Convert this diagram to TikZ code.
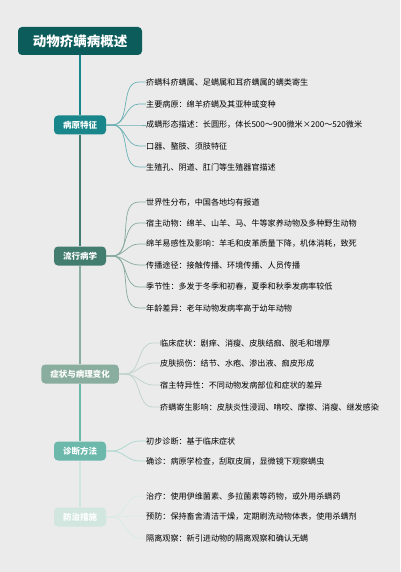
\documentclass[tikz,border=0pt]{standalone}
\usepackage{fontspec}
\setmainfont{Noto Sans CJK SC}
\usepackage{xcolor}
\usepackage{tikz}
\usetikzlibrary{positioning}
\definecolor{fondGris}{RGB}{235, 235, 235}
\definecolor{tealTitre}{RGB}{13, 92, 92}
\definecolor{tealPath}{RGB}{24, 134, 138}
\definecolor{vertEpid}{RGB}{67, 125, 111}
\definecolor{grisSympt}{RGB}{137, 173, 158}
\definecolor{tealDiag}{RGB}{108, 185, 172}
\definecolor{vertPrev}{RGB}{208, 230, 222}

\begin{document}
\begin{tikzpicture}[x=1pt, y=-1pt,
  titre/.style={rectangle, rounded corners=4pt, fill=tealTitre, text=white,
    minimum width=124pt, minimum height=28pt, inner sep=0pt,
    font=\fontsize{13.5}{15}\selectfont\bfseries},
  sect/.style={rectangle, rounded corners=4pt, text=white,
    minimum width=52pt, minimum height=19pt, inner xsep=9pt, inner ysep=0pt,
    font=\fontsize{8.5}{10}\selectfont\bfseries},
  feuille/.style={anchor=west, inner sep=0pt, font=\fontsize{8.1}{9}\selectfont},
  axe/.style={line width=2.5pt},
  lien/.style={line width=0.7pt},
]
\fill[fondGris] (0,0) rectangle (400,572);
\useasboundingbox (0,0) rectangle (400,572);
% titre et axe
\node[titre] (titre) at (80,41) {动物疥螨病概述};
\node[sect, fill=tealPath]  (pathA) at (80,125) {病原特征};
\node[sect, fill=vertEpid]  (epid)  at (80,256) {流行病学};
\node[sect, fill=grisSympt] (sympt) at (80,374) {症状与病理变化};
\node[sect, fill=tealDiag]  (diag)  at (80,451) {诊断方法};
\node[sect, fill=vertPrev]  (prev)  at (80,517) {防治措施};
\draw[axe, draw=tealPath]  (titre.south) -- (pathA.north);
\draw[axe, draw=vertEpid]  (pathA.south) -- (epid.north);
\draw[axe, draw=grisSympt] (epid.south)  -- (sympt.north);
\draw[axe, draw=tealDiag]  (sympt.south) -- (diag.north);
\draw[axe, draw=vertPrev]  (diag.south)  -- (prev.north);
%病原特征
\node[feuille] (pa1) at (146,82)  {疥螨科疥螨属、足螨属和耳疥螨属的螨类寄生};
\node[feuille] (pa2) at (146,104) {主要病原：绵羊疥螨及其亚种或变种};
\node[feuille] (pa3) at (146,125) {成螨形态描述：长圆形，体长500～900微米×200～520微米};
\node[feuille] (pa4) at (146,146) {口器、螯肢、须肢特征};
\node[feuille] (pa5) at (146,167) {生殖孔、阴道、肛门等生殖器官描述};
\draw[lien, draw=tealPath!65] (pathA.east) -- ++(6,0) to[out=0,in=180] ([xshift=-7pt]pa1.west) -- (pa1.west);
\draw[lien, draw=tealPath!65] (pathA.east) -- ++(6,0) to[out=0,in=180] ([xshift=-7pt]pa2.west) -- (pa2.west);
\draw[lien, draw=tealPath!65] (pathA.east) -- ++(6,0) to[out=0,in=180] ([xshift=-7pt]pa3.west) -- (pa3.west);
\draw[lien, draw=tealPath!65] (pathA.east) -- ++(6,0) to[out=0,in=180] ([xshift=-7pt]pa4.west) -- (pa4.west);
\draw[lien, draw=tealPath!65] (pathA.east) -- ++(6,0) to[out=0,in=180] ([xshift=-7pt]pa5.west) -- (pa5.west);
% 流行病学
\node[feuille] (ep1) at (146,202) {世界性分布，中国各地均有报道};
\node[feuille] (ep2) at (146,223) {宿主动物：绵羊、山羊、马、牛等家养动物及多种野生动物};
\node[feuille] (ep3) at (146,244) {绵羊易感性及影响：羊毛和皮革质量下降，机体消耗，致死};
\node[feuille] (ep4) at (146,265) {传播途径：接触传播、环境传播、人员传播};
\node[feuille] (ep5) at (146,287) {季节性：多发于冬季和初春，夏季和秋季发病率较低};
\node[feuille] (ep6) at (146,308) {年龄差异：老年动物发病率高于幼年动物};
\draw[lien, draw=vertEpid!65] (epid.east) -- ++(6,0) to[out=0,in=180] ([xshift=-7pt]ep1.west) -- (ep1.west);
\draw[lien, draw=vertEpid!65] (epid.east) -- ++(6,0) to[out=0,in=180] ([xshift=-7pt]ep2.west) -- (ep2.west);
\draw[lien, draw=vertEpid!65] (epid.east) -- ++(6,0) to[out=0,in=180] ([xshift=-7pt]ep3.west) -- (ep3.west);
\draw[lien, draw=vertEpid!65] (epid.east) -- ++(6,0) to[out=0,in=180] ([xshift=-7pt]ep4.west) -- (ep4.west);
\draw[lien, draw=vertEpid!65] (epid.east) -- ++(6,0) to[out=0,in=180] ([xshift=-7pt]ep5.west) -- (ep5.west);
\draw[lien, draw=vertEpid!65] (epid.east) -- ++(6,0) to[out=0,in=180] ([xshift=-7pt]ep6.west) -- (ep6.west);
% 症状与病理变化
\node[feuille] (sy1) at (160,343) {临床症状：剧痒、消瘦、皮肤结痂、脱毛和增厚};
\node[feuille] (sy2) at (160,363) {皮肤损伤：结节、水疱、渗出液、痂皮形成};
\node[feuille] (sy3) at (160,385) {宿主特异性：不同动物发病部位和症状的差异};
\node[feuille] (sy4) at (160,407) {疥螨寄生影响：皮肤炎性浸润、啃咬、摩擦、消瘦、继发感染};
\draw[lien, draw=grisSympt!55] (sympt.east) -- ++(6,0) to[out=0,in=180] ([xshift=-7pt]sy1.west) -- (sy1.west);
\draw[lien, draw=grisSympt!55] (sympt.east) -- ++(6,0) to[out=0,in=180] ([xshift=-7pt]sy2.west) -- (sy2.west);
\draw[lien, draw=grisSympt!55] (sympt.east) -- ++(6,0) to[out=0,in=180] ([xshift=-7pt]sy3.west) -- (sy3.west);
\draw[lien, draw=grisSympt!55] (sympt.east) -- ++(6,0) to[out=0,in=180] ([xshift=-7pt]sy4.west) -- (sy4.west);
% 诊断方法
\node[feuille] (di1) at (146,441) {初步诊断：基于临床症状};
\node[feuille] (di2) at (146,461) {确诊：病原学检查，刮取皮屑，显微镜下观察螨虫};
\draw[lien, draw=tealDiag!60] (diag.east) -- ++(6,0) to[out=0,in=180] ([xshift=-7pt]di1.west) -- (di1.west);
\draw[lien, draw=tealDiag!60] (diag.east) -- ++(6,0) to[out=0,in=180] ([xshift=-7pt]di2.west) -- (di2.west);
% 防治措施
\node[feuille] (pr1) at (146,496) {治疗：使用伊维菌素、多拉菌素等药物，或外用杀螨药};
\node[feuille] (pr2) at (146,516) {预防：保持畜舍清洁干燥，定期刷洗动物体表，使用杀螨剂};
\node[feuille] (pr3) at (146,538) {隔离观察：新引进动物的隔离观察和确认无螨};
\draw[lien, draw=vertPrev!80] (prev.east) -- ++(6,0) to[out=0,in=180] ([xshift=-7pt]pr1.west) -- (pr1.west);
\draw[lien, draw=vertPrev!80] (prev.east) -- ++(6,0) to[out=0,in=180] ([xshift=-7pt]pr2.west) -- (pr2.west);
\draw[lien, draw=vertPrev!80] (prev.east) -- ++(6,0) to[out=0,in=180] ([xshift=-7pt]pr3.west) -- (pr3.west);
\end{tikzpicture}
\end{document}
